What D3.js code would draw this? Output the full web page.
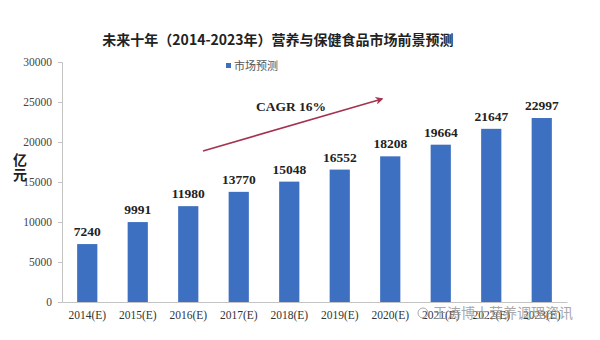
<!DOCTYPE html>
<html>
<head>
<meta charset="utf-8">
<script src="https://cdn.jsdelivr.net/npm/d3@7"></script>
<style>
  body { margin: 0; background: #fff; }
  #wrapper { width: 600px; height: 340px; }
</style>
</head>
<body>
<div id="wrapper"></div>
<script>
// data
const years = ["2014(E)", "2015(E)", "2016(E)", "2017(E)", "2018(E)",
  "2019(E)", "2020(E)", "2021(E)", "2022(E)", "2023(E)"];
const market = [7240, 9991, 11980, 13770, 15048, 16552, 18208, 19664, 21647, 22997];
const yTicks = [0, 5000, 10000, 15000, 20000, 25000, 30000];

const titleText = "未来十年（2014-2023年）营养与保健食品市场前景预测";
const legendText = "市场预测";
const cagrText = "CAGR 16%";
const watermark = "王涛博士营养调理资讯";

// dimensions
let dimensions = {
  width: 600,
  height: 340,
  margin: { top: 62, right: 33, bottom: 38, left: 62 },
};
dimensions.boundedWidth =
  dimensions.width - dimensions.margin.left - dimensions.margin.right;
dimensions.boundedHeight =
  dimensions.height - dimensions.margin.top - dimensions.margin.bottom;

const serif = "'Liberation Serif', 'Times New Roman', serif";
const cjk = "'Noto Sans CJK SC', sans-serif";

const svg = d3.select("#wrapper")
  .append("svg")
  .attr("width", dimensions.width)
  .attr("height", dimensions.height);

svg.append("rect").attr("width", 600).attr("height", 340).attr("fill", "#fff");

const bounds = svg.append("g")
  .attr("transform", `translate(${dimensions.margin.left},${dimensions.margin.top})`);

// scales
const xScale = d3.scaleBand()
  .domain(years)
  .range([0, dimensions.boundedWidth])
  .paddingInner(0.6)
  .paddingOuter(0.3);

const yScale = d3.scaleLinear()
  .domain([0, 30000])
  .range([dimensions.boundedHeight, 0]);

// axes
const yAxis = bounds.append("g")
  .call(d3.axisLeft(yScale).tickValues(yTicks).tickSize(4).tickPadding(6).tickFormat(d3.format("d")));
yAxis.select(".domain").attr("stroke", "#c4c4c4");
yAxis.selectAll(".tick line").attr("stroke", "#c4c4c4");
yAxis.selectAll("text")
  .attr("font-family", serif)
  .attr("font-size", 11.5)
  .attr("fill", "#444");

const xAxis = bounds.append("g")
  .attr("transform", `translate(0,${dimensions.boundedHeight})`)
  .call(d3.axisBottom(xScale).tickSize(0).tickPadding(9));
xAxis.select(".domain").attr("stroke", "#c4c4c4");
xAxis.selectAll("text")
  .attr("font-family", serif)
  .attr("font-size", 11.5)
  .attr("fill", "#333");

// bars
bounds.selectAll("rect.bar")
  .data(market)
  .join("rect")
  .attr("class", "bar")
  .attr("x", (d, i) => xScale(years[i]))
  .attr("width", xScale.bandwidth())
  .attr("y", d => yScale(d))
  .attr("height", d => yScale(0) - yScale(d))
  .attr("fill", "#3d70c0");

bounds.selectAll("text.val")
  .data(market)
  .join("text")
  .attr("class", "val")
  .attr("x", (d, i) => xScale(years[i]) + xScale.bandwidth() / 2)
  .attr("y", d => yScale(d) - 8)
  .attr("text-anchor", "middle")
  .attr("font-family", serif)
  .attr("font-weight", "bold")
  .attr("font-size", 13.5)
  .attr("fill", "#222")
  .text(d => d);

// title
svg.append("text")
  .attr("x", 278)
  .attr("y", 45)
  .attr("text-anchor", "middle")
  .attr("font-family", cjk)
  .attr("font-weight", "bold")
  .attr("font-size", 14)
  .attr("fill", "#222")
  .text(titleText);

// legend
svg.append("rect")
  .attr("x", 226).attr("y", 63)
  .attr("width", 5).attr("height", 5)
  .attr("fill", "#3d70c0");
svg.append("text")
  .attr("x", 234).attr("y", 70)
  .attr("font-family", cjk)
  .attr("font-size", 11)
  .attr("fill", "#555")
  .text(legendText);

// y label
const yLabel = svg.append("g")
  .attr("font-family", cjk)
  .attr("font-weight", "bold")
  .attr("font-size", 14)
  .attr("fill", "#222");
yLabel.append("text").attr("x", 20).attr("y", 165).attr("text-anchor", "middle").text("亿");
yLabel.append("text").attr("x", 20).attr("y", 180).attr("text-anchor", "middle").text("元");

// CAGR arrow
svg.append("defs").append("marker")
  .attr("id", "arrow")
  .attr("viewBox", "0 0 10 10")
  .attr("refX", 8).attr("refY", 5)
  .attr("markerWidth", 5).attr("markerHeight", 5)
  .attr("orient", "auto")
  .append("path")
  .attr("d", "M0,0 L10,5 L0,10 L3,5 Z")
  .attr("fill", "#a3334f");

svg.append("line")
  .attr("x1", 203).attr("y1", 151)
  .attr("x2", 382).attr("y2", 99)
  .attr("stroke", "#a3334f")
  .attr("stroke-width", 1.6)
  .attr("marker-end", "url(#arrow)");

svg.append("text")
  .attr("x", 256).attr("y", 111)
  .attr("font-family", serif)
  .attr("font-weight", "bold")
  .attr("font-size", 13.5)
  .attr("fill", "#222")
  .text(cagrText);

// watermark
svg.append("circle")
  .attr("cx", 423).attr("cy", 313).attr("r", 5)
  .attr("fill", "none").attr("stroke", "#aaa").attr("stroke-width", 1);
svg.append("text")
  .attr("x", 433).attr("y", 318)
  .attr("font-family", cjk)
  .attr("font-size", 14)
  .attr("fill", "#999")
  .attr("opacity", 0.85)
  .text(watermark);
</script>
</body>
</html>
